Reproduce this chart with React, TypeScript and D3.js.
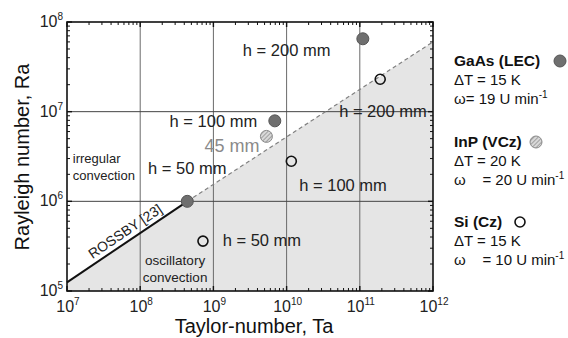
import * as d3 from "d3";

// Taylor-number (x) and Rayleigh-number (y) decades, as exponents
const taDecades = [7, 8, 9, 10, 11, 12];
const raDecades = [5, 6, 7, 8];

// Rossby stability boundary: solid (measured) then dashed (extrapolated)
const boundarySolid: [number, number][] = [
  [1e7, 1.25e5],
  [4.4e8, 1e6],
];
const boundaryDashed: [number, number][] = [
  [4.4e8, 1e6],
  [1e12, 6e7],
];

// crystal growth points (Ta, Ra)
const gaasPoints: [number, number][] = [
  [4.4e8, 1e6],
  [6.9e9, 7.9e6],
  [1.1e11, 6.5e7],
];
const inpPoints: [number, number][] = [[5.3e9, 5.3e6]];
const siPoints: [number, number][] = [
  [1.9e11, 2.3e7],
  [1.16e10, 2.8e6],
  [7.2e8, 3.6e5],
];

// in-plot annotations, anchored in data coordinates
const annotations = [
  { text: "h = 200 mm", ta: 1e10, ra: 4.9e7, size: 16.5, color: "#222" },
  { text: "h = 100 mm", ta: 1e9, ra: 7.9e6, size: 16.5, color: "#222" },
  { text: "45 mm", ta: 1.8e9, ra: 4.15e6, size: 18, color: "#8a8a8a" },
  { text: "h = 50 mm", ta: 4.4e8, ra: 2.35e6, size: 16.5, color: "#222" },
  { text: "h = 200 mm", ta: 2.07e11, ra: 1e7, size: 16.5, color: "#222" },
  { text: "h = 100 mm", ta: 5.9e10, ra: 1.52e6, size: 16.5, color: "#222" },
  { text: "h = 50 mm", ta: 4.6e9, ra: 3.7e5, size: 16.5, color: "#222" },
  { text: "oscillatory", ta: 3e8, ra: 2.2e5, size: 13.5, color: "#222" },
  { text: "convection", ta: 3e8, ra: 1.44e5, size: 13.5, color: "#222" },
];
const regimeLeft = [
  { text: "irregular", ta: 1.2e7, ra: 2.97e6 },
  { text: "convection", ta: 1.2e7, ra: 1.92e6 },
];
// ROSSBY label sits on the solid boundary at this Ta
const rossbyTa = 7.4e7;

const legendGroups = [
  { name: "GaAs (LEC)", dT: "ΔT = 15 K", omega: "ω= 19 U min", kind: "gaas" },
  { name: "InP (VCz)", dT: "ΔT = 20 K", omega: "ω\u00a0\u00a0\u00a0 = 20 U min", kind: "inp" },
  { name: "Si (Cz)", dT: "ΔT = 15 K", omega: "ω\u00a0\u00a0\u00a0 = 10 U min", kind: "si" },
];

const W = 568;
const H = 338;
const margin = { top: 22, right: 135, bottom: 47, left: 67 };
const FONT = "'Liberation Sans', Arial, sans-serif";

export default function App() {
  const innerW = W - margin.left - margin.right;
  const innerH = H - margin.top - margin.bottom;
  const x = d3.scaleLog().domain([1e7, 1e12]).range([0, innerW]);
  const y = d3.scaleLog().domain([1e5, 1e8]).range([innerH, 0]);

  const line = d3
    .line<[number, number]>()
    .x((d) => x(d[0]))
    .y((d) => y(d[1]));

  const shade: [number, number][] = [
    [1e7, 1e5],
    ...boundarySolid,
    ...boundaryDashed.slice(1),
    [1e12, 1e5],
  ];

  const minorTa = taDecades.slice(0, -1).flatMap((e) => d3.range(2, 10).map((m) => m * 10 ** e));
  const minorRa = raDecades.slice(0, -1).flatMap((e) => d3.range(2, 10).map((m) => m * 10 ** e));

  const [p0, p1] = boundarySolid.map((d) => [x(d[0]), y(d[1])]);
  const rossbyAngle = (Math.atan2(p1[1] - p0[1], p1[0] - p0[0]) * 180) / Math.PI;
  const rx = x(rossbyTa);
  const ry = p0[1] + ((rx - p0[0]) * (p1[1] - p0[1])) / (p1[0] - p0[0]);

  const legendY = [61, 142, 222];
  const legendCircleX = [560, 536, 520];

  const marker = (kind: string, cx: number, cy: number, key: string) => {
    if (kind === "gaas")
      return <circle key={key} cx={cx} cy={cy} r={6} fill="#6f6f6f" stroke="#555" strokeWidth={1} />;
    if (kind === "inp")
      return <circle key={key} cx={cx} cy={cy} r={6} fill="url(#hatch)" stroke="#8a8a8a" strokeWidth={1} />;
    return <circle key={key} cx={cx} cy={cy} r={5} fill="none" stroke="#111" strokeWidth={1.6} />;
  };

  return (
    <svg
      width={W}
      height={H}
      style={{ position: "absolute", left: 0, top: 0, background: "#fff", fontFamily: FONT }}
    >
      <defs>
        <pattern id="hatch" patternUnits="userSpaceOnUse" width={3} height={3} patternTransform="rotate(45)">
          <rect width={3} height={3} fill="#d8d8d8" />
          <line x1={0} y1={0} x2={0} y2={3} stroke="#7a7a7a" strokeWidth={1.2} />
        </pattern>
      </defs>
      <g transform={`translate(${margin.left},${margin.top})`}>
        {/* stable region below the boundary */}
        <path d={line(shade) + "Z"} fill="#e5e5e5" />

        {/* grid */}
        {taDecades.slice(1, -1).map((e) => (
          <line key={"gx" + e} x1={x(10 ** e)} x2={x(10 ** e)} y1={0} y2={innerH} stroke="#6a6a6a" strokeWidth={1} />
        ))}
        {raDecades.slice(1, -1).map((e) => (
          <line key={"gy" + e} x1={0} x2={innerW} y1={y(10 ** e)} y2={y(10 ** e)} stroke="#444" strokeWidth={1} />
        ))}

        {/* boundary */}
        <path d={line(boundaryDashed)!} fill="none" stroke="#808080" strokeWidth={1.2} strokeDasharray="4 3" />
        <path d={line(boundarySolid)!} fill="none" stroke="#111" strokeWidth={2} />

        {/* inward ticks on all four sides */}
        {minorTa.map((v, i) => (
          <g key={"tx" + i}>
            <line x1={x(v)} x2={x(v)} y1={innerH} y2={innerH - 3} stroke="#111" />
            <line x1={x(v)} x2={x(v)} y1={0} y2={3} stroke="#111" />
          </g>
        ))}
        {minorRa.map((v, i) => (
          <g key={"ty" + i}>
            <line x1={0} x2={3} y1={y(v)} y2={y(v)} stroke="#111" />
            <line x1={innerW} x2={innerW - 3} y1={y(v)} y2={y(v)} stroke="#111" />
          </g>
        ))}
        {taDecades.map((e) => (
          <g key={"mx" + e}>
            <line x1={x(10 ** e)} x2={x(10 ** e)} y1={innerH} y2={innerH - 5} stroke="#111" strokeWidth={1.4} />
            <line x1={x(10 ** e)} x2={x(10 ** e)} y1={0} y2={5} stroke="#111" strokeWidth={1.4} />
          </g>
        ))}
        {raDecades.map((e) => (
          <g key={"my" + e}>
            <line x1={0} x2={5} y1={y(10 ** e)} y2={y(10 ** e)} stroke="#111" strokeWidth={1.4} />
            <line x1={innerW} x2={innerW - 5} y1={y(10 ** e)} y2={y(10 ** e)} stroke="#111" strokeWidth={1.4} />
          </g>
        ))}
        <rect x={0} y={0} width={innerW} height={innerH} fill="none" stroke="#111" strokeWidth={1.6} />

        {/* tick labels */}
        {taDecades.map((e) => (
          <text key={"lx" + e} x={x(10 ** e) + 1} y={innerH + 21} textAnchor="middle" fontSize={16} fill="#222">
            10
            <tspan fontSize={10} dy={-7}>
              {e}
            </tspan>
          </text>
        ))}
        {raDecades.map((e) => (
          <text key={"ly" + e} x={-4} y={y(10 ** e) + 5} textAnchor="end" fontSize={16} fill="#222">
            10
            <tspan fontSize={10} dy={-7}>
              {e}
            </tspan>
          </text>
        ))}

        {/* annotations */}
        {annotations.map((a, i) => (
          <text
            key={"a" + i}
            x={x(a.ta)}
            y={y(a.ra)}
            dy="0.35em"
            textAnchor="middle"
            fontSize={a.size}
            fill={a.color}
          >
            {a.text}
          </text>
        ))}
        {regimeLeft.map((a, i) => (
          <text key={"r" + i} x={x(a.ta)} y={y(a.ra)} dy="0.35em" fontSize={13} fill="#222">
            {a.text}
          </text>
        ))}
        <text
          transform={`translate(${rx},${ry}) rotate(${rossbyAngle})`}
          dy={-5}
          textAnchor="middle"
          fontSize={14}
          fill="#222"
        >
          ROSSBY [23]
        </text>

        {/* data points */}
        {gaasPoints.map((p, i) => marker("gaas", x(p[0]), y(p[1]), "g" + i))}
        {inpPoints.map((p, i) => marker("inp", x(p[0]), y(p[1]), "i" + i))}
        {siPoints.map((p, i) => marker("si", x(p[0]), y(p[1]), "s" + i))}
      </g>

      {/* axis titles */}
      <text x={254} y={333} textAnchor="middle" fontSize={20} fill="#111">
        Taylor-number, Ta
      </text>
      <text transform="translate(29,157) rotate(-90)" textAnchor="middle" fontSize={20} fill="#111">
        Rayleigh number, Ra
      </text>

      {/* legend */}
      {legendGroups.map((g, i) => (
        <g key={"leg" + i} fontSize={15} fill="#111">
          <text x={454} y={legendY[i]} dy="0.35em" fontWeight="bold" fontSize={15.5}>
            {g.name}
          </text>
          {marker(g.kind, legendCircleX[i], legendY[i], "lm" + i)}
          <text x={454} y={legendY[i] + 19} dy="0.35em">
            {g.dT}
          </text>
          <text x={454} y={legendY[i] + 38} dy="0.35em">
            {g.omega}
            <tspan fontSize={10} dy={-6}>
              -1
            </tspan>
          </text>
        </g>
      ))}
    </svg>
  );
}
